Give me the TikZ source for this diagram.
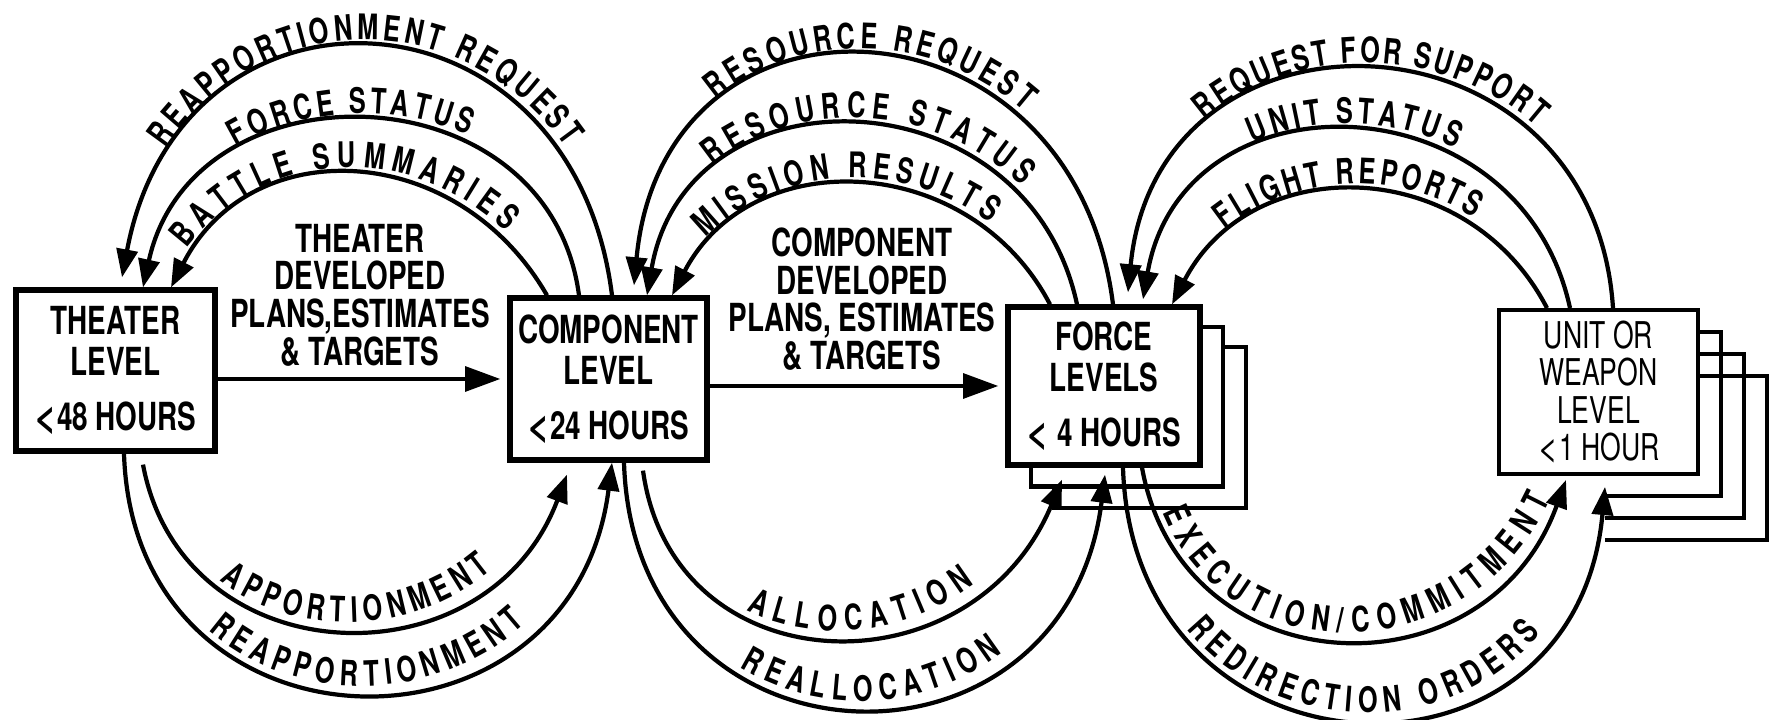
\documentclass[tikz,border=0pt]{standalone}
\usepackage{fontspec}
\setmainfont{TeX Gyre Heros}[FakeStretch=0.72]
\newfontfamily\arcfont{TeX Gyre Heros}[FakeStretch=0.72]
\newfontfamily\plainfont{TeX Gyre Heros}
\newcommand\lessthan{{\plainfont <}}
\usetikzlibrary{arrows.meta,decorations.text}

\tikzset{
  lvlbox/.style={draw,line width=1.5pt,fill=white,align=center,inner sep=1pt,
    font=\bfseries\fontsize{11}{11.6}\selectfont},
  plabel/.style={align=center,inner sep=0pt,font=\bfseries\fontsize{11}{10.7}\selectfont},
  flowline/.style={line width=1.2pt},
  toarr/.style={-{Triangle[length=8pt,width=6pt]}},
  fromarr/.style={{Triangle[length=8pt,width=6pt]}-},
  onarc/.style n args={3}{postaction={decorate},decoration={text along path,
    text align={fit to path,left indent=#2,right indent=#3},raise=2pt,
    text={|\arcfont\bfseries\fontsize{10}{12}\selectfont|#1}}},
  stackbox/.style={line width=1.2pt,fill=white},
}

\begin{document}
\begin{tikzpicture}
\useasboundingbox (0,0) rectangle (17.75,-7.2);
% copies behind force and unit levels
\foreach \d in {2,1}{
\draw[stackbox] (10.08+.23*\d,-3.07-.2*\d) rectangle (12.00+.23*\d,-4.65-.215*\d);
}
\foreach \d in {3,2,1}{
\draw[stackbox,fill=none] (16.9,-3.10-.22*\d) -| (16.98+.23*\d,-4.74-.22*\d) -- (16.05,-4.74-.22*\d);
}

\node[lvlbox,minimum width=1.99cm,minimum height=1.61cm] (theater) at (1.155,-3.705) {THEATER\\LEVEL\\[4pt]\lessthan48 HOURS};
\node[lvlbox,minimum width=1.97cm,minimum height=1.62cm] (component) at (6.085,-3.79) {COMPONENT\\LEVEL\\[4pt]\lessthan24 HOURS};
\node[lvlbox,minimum width=1.92cm,minimum height=1.58cm] (force) at (11.04,-3.86) {FORCE\\LEVELS\\[4pt]\lessthan\ 4 HOURS};
\node[lvlbox,line width=1.1pt,font=\fontsize{10.5}{10.6}\selectfont,minimum width=1.99cm,minimum height=1.64cm] (unit) at (15.985,-3.92) {UNIT OR\\WEAPON\\LEVEL\\\lessthan1 HOUR};

\node[plabel] (thplan) at (3.60,-2.95) {THEATER\\DEVELOPED\\PLANS,ESTIMATES\\\& TARGETS};
\node[plabel] (coplan) at (8.62,-2.99) {COMPONENT\\DEVELOPED\\PLANS, ESTIMATES\\\& TARGETS};

\draw[flowline,-{Triangle[length=10pt,width=7pt]},shorten >=2pt] (theater.east |- component.west) -- (component.west);
\draw[flowline,-{Triangle[length=10pt,width=7pt]},shorten >=2pt] (component.east |- force.west) -- (force.west);

% theater <-> component
\draw[flowline,fromarr,onarc={REAPPORTIONMENT REQUEST}{1.35cm}{1.55cm}] ([xshift=.065cm,yshift=.1cm]theater.north) .. controls +(.6,3.19) and +(-.4,3.19) .. ([xshift=.035cm]component.north);
\draw[flowline,fromarr,onarc={FORCE STATUS}{1.7cm}{2.0cm}] ([xshift=.275cm]theater.north) .. controls +(.5,2.28) and +(-.3,2.28) .. ([xshift=-.295cm]component.north);
\draw[flowline,fromarr,onarc={BATTLE SUMMARIES}{.4cm}{.75cm}] ([xshift=.555cm]theater.north) .. controls +(.8,1.56) and +(-.9,1.56) .. ([xshift=-.615cm]component.north);
\draw[flowline,toarr,onarc={APPORTIONMENT}{1.45cm}{1.25cm}] ([xshift=.275cm,yshift=-.11cm]theater.south) .. controls +(.4,-2.13) and +(-.8,-2.13) .. ([xshift=-.415cm,yshift=-.12cm]component.south);
\draw[flowline,toarr,onarc={REAPPORTIONMENT}{2.05cm}{1.9cm}] ([xshift=.085cm]theater.south) .. controls +(.1,-3.13) and +(-.4,-3.13) .. ([xshift=.035cm]component.south);

% component <-> force
\draw[flowline,fromarr,onarc={RESOURCE REQUEST}{2.05cm}{2.15cm}] ([xshift=.255cm,yshift=.1cm]component.north) .. controls +(.3,3.19) and +(-.4,3.19) .. ([xshift=.09cm]force.north);
\draw[flowline,fromarr,onarc={RESOURCE STATUS}{1.45cm}{1.3cm}] ([xshift=.385cm]component.north) .. controls +(.4,2.33) and +(-.5,2.33) .. ([xshift=-.27cm]force.north);
\draw[flowline,fromarr,onarc={MISSION RESULTS}{.65cm}{1.0cm}] ([xshift=.635cm]component.north) .. controls +(.8,1.53) and +(-.8,1.53) .. ([xshift=-.54cm]force.north);
\draw[flowline,toarr,onarc={ALLOCATION}{1.85cm}{1.4cm}] ([xshift=.345cm,yshift=-.08cm]component.south) .. controls +(.3,-2.17) and +(-.9,-2.17) .. ([xshift=-.42cm,yshift=-.12cm]force.south);
\draw[flowline,toarr,onarc={REALLOCATION}{2.5cm}{2.15cm}] ([xshift=.155cm]component.south) .. controls +(.1,-3.19) and +(-.4,-3.19) .. ([xshift=.01cm,yshift=-.07cm]force.south);

% force <-> unit
\draw[flowline,fromarr,onarc={REQUEST FOR SUPPORT}{1.9cm}{2.0cm}] ([xshift=.24cm,yshift=.12cm]force.north) .. controls +(.3,3.07) and +(-.2,3.07) .. ([xshift=.145cm]unit.north);
\draw[flowline,fromarr,onarc={UNIT STATUS}{1.95cm}{2.0cm}] ([xshift=.39cm,yshift=.05cm]force.north) .. controls +(.4,2.31) and +(-.5,2.31) .. ([xshift=-.285cm]unit.north);
\draw[flowline,fromarr,onarc={FLIGHT REPORTS}{.9cm}{1.15cm}] ([xshift=.68cm]force.north) .. controls +(.8,1.54) and +(-.8,1.54) .. ([xshift=-.515cm]unit.north);
\draw[flowline,toarr,onarc={EXECUTION/COMMITMENT}{.5cm}{.25cm}] ([xshift=.38cm]force.south) .. controls +(.4,-2.21) and +(-.8,-2.21) .. ([xshift=-.325cm,yshift=-.04cm]unit.south);
\draw[flowline,toarr,onarc={REDIRECTION ORDERS}{1.8cm}{1.65cm}] ([xshift=.19cm]force.south) .. controls +(.1,-3.23) and +(-.3,-3.23) .. ([xshift=.065cm,yshift=-.11cm]unit.south);
\end{tikzpicture}
\end{document}
